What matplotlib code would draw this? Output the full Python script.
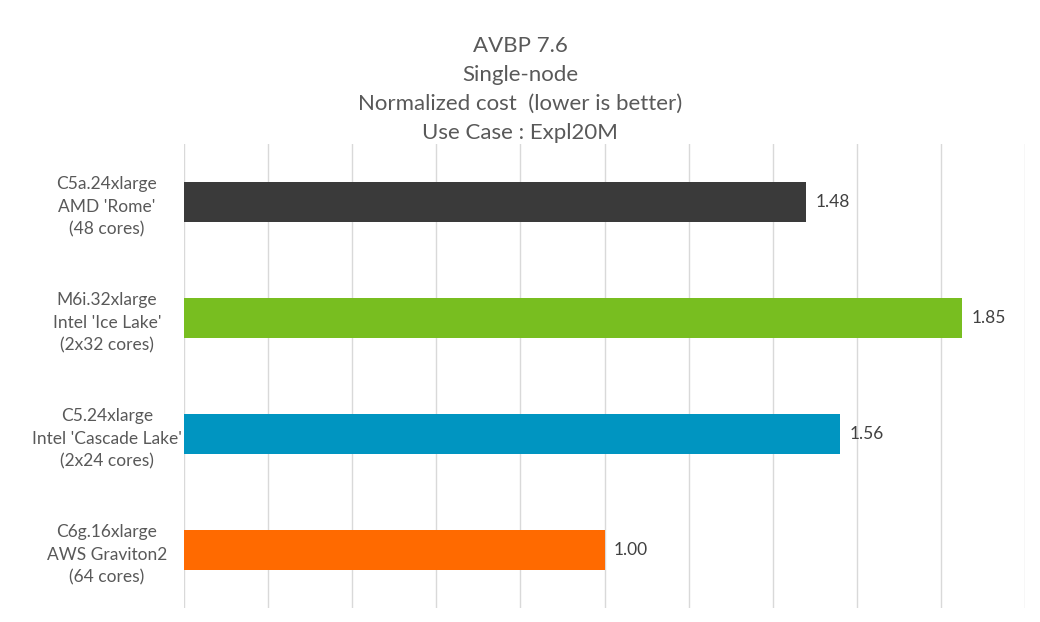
import matplotlib.pyplot as plt

plt.rcParams["font.family"] = ["Lato", "DejaVu Sans"]

instances = [
    "C5a.24xlarge\nAMD 'Rome'\n(48 cores)",
    "M6i.32xlarge\nIntel 'Ice Lake'\n(2x32 cores)",
    "C5.24xlarge\nIntel 'Cascade Lake'\n(2x24 cores)",
    "C6g.16xlarge\nAWS Graviton2\n(64 cores)",
]
cost = [1.48, 1.85, 1.56, 1.00]
colors = ["#3a3a3a", "#78be20", "#0095c1", "#ff6a00"]
title_lines = ["AVBP 7.6", "Single-node", "Normalized cost  (lower is better)", "Use Case : Expl20M"]

fig = plt.figure(figsize=(10.4, 6.22), dpi=100, facecolor="white")
ax = fig.add_axes([0.177, 0.0225, 0.8086, 0.746])

ypos = list(range(len(instances)))
bars = ax.barh(ypos, cost, height=0.345, color=colors, zorder=3)
ax.set_ylim(len(instances) - 0.5, -0.5)
ax.set_xlim(0, 2.0)
ax.set_xticks([i * 0.2 for i in range(11)])
ax.set_xticklabels([])
ax.tick_params(axis="x", length=0)
# centre of labels sits ~77 px left of the axis
ax.tick_params(axis="y", length=0, pad=55.5, labelsize=12.5, labelcolor="#595959")
ax.set_yticks(ypos)
ax.set_yticklabels(instances, ha="center", linespacing=1.5)
ax.grid(axis="x", color="#d9d9d9", linewidth=1, zorder=0)
for s in ax.spines.values():
    s.set_visible(False)

for b, v in zip(bars, cost):
    ax.text(v + 0.022, b.get_y() + b.get_height() / 2, f"{v:.2f}",
            va="center", ha="left", fontsize=12.5, color="#404040")

for i, line in enumerate(title_lines):
    fig.text(0.5, 1 - (46 + i * 29) / 622, line, ha="center", va="center",
             fontsize=16, color="#595959")

fig.savefig("out.png", dpi=100, facecolor="white")
